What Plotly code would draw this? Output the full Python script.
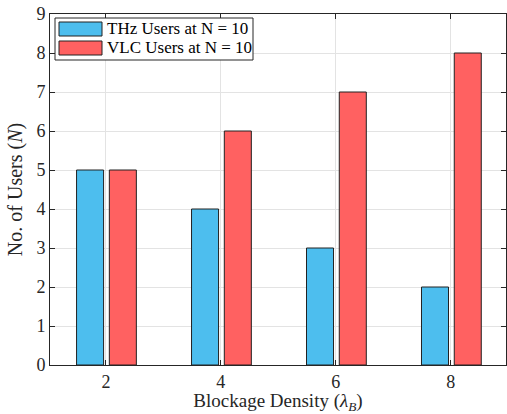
import plotly.graph_objects as go

density = [2, 4, 6, 8]
thz_users = [5, 4, 3, 2]
vlc_users = [5, 6, 7, 8]
y_ticks = list(range(0, 10))
series_names = ["THz Users at N = 10", "VLC Users at N = 10"]
series_colors = ["#4DBEEE", "#FF6161"]

FONT = "Liberation Serif"
L, R, T, B = 50, 1, 14, 49
W, H = 507, 414
PW, PH = W - L - R, H - T - B


def px_x(p):
    return (p - L) / PW


def px_y(p):
    return (H - B - p) / PH


fig = go.Figure()
fig.add_trace(go.Bar(
    x=density, y=thz_users, name=series_names[0],
    width=0.47, offset=-0.51, showlegend=False,
    marker=dict(color=series_colors[0], line=dict(color="#222222", width=1)),
))
fig.add_trace(go.Bar(
    x=density, y=vlc_users, name=series_names[1],
    width=0.47, offset=0.06, showlegend=False,
    marker=dict(color=series_colors[1], line=dict(color="#222222", width=1)),
))

# custom legend (box, swatches, labels)
shapes = [dict(type="rect", xref="paper", yref="paper",
               x0=px_x(55), x1=px_x(253), y0=px_y(60), y1=px_y(18),
               fillcolor="white", line=dict(color="#262626", width=1), layer="above")]
annotations = []
for i, (name, col) in enumerate(zip(series_names, series_colors)):
    top = 22 + i * 19
    shapes.append(dict(type="rect", xref="paper", yref="paper",
                       x0=px_x(59), x1=px_x(102), y0=px_y(top + 14), y1=px_y(top),
                       fillcolor=col, line=dict(color="#222222", width=1), layer="above"))
    annotations.append(dict(xref="paper", yref="paper", x=px_x(105), y=px_y(top + 7),
                            xanchor="left", yanchor="middle", showarrow=False,
                            text=name, font=dict(family=FONT, size=17, color="#000000")))

fig.update_layout(
    width=W, height=H,
    margin=dict(l=L, r=R, t=T, b=B),
    plot_bgcolor="white", paper_bgcolor="white",
    font=dict(family=FONT, size=18, color="#262626"),
    showlegend=False,
    shapes=shapes, annotations=annotations,
    xaxis=dict(
        range=[1.028, 8.96], tickvals=density, ticktext=[str(v) for v in density],
        ticks="inside", ticklen=5, tickcolor="#262626", automargin=False,
        showline=True, linecolor="#262626", linewidth=1, mirror="ticks",
        showgrid=True, gridcolor="#e3e3e3", zeroline=False,
        tickfont=dict(family=FONT, size=18),
        title=dict(text="Blockage Density (<i>λ</i><sub><i>B</i></sub>)", standoff=3,
                   font=dict(family=FONT, size=19)),
    ),
    yaxis=dict(
        range=[0, 9], tickvals=y_ticks,
        ticks="inside", ticklen=5, tickcolor="#262626", automargin=False,
        showline=True, linecolor="#262626", linewidth=1, mirror="ticks",
        showgrid=True, gridcolor="#e3e3e3", zeroline=False,
        tickfont=dict(family=FONT, size=18),
        title=dict(text="No. of Users (<i>N</i>)", standoff=8,
                   font=dict(family=FONT, size=20)),
    ),
)

fig.write_html("out.html", config={"displayModeBar": False},
               post_script="document.body.style.margin='0';document.body.style.overflow='hidden';")
